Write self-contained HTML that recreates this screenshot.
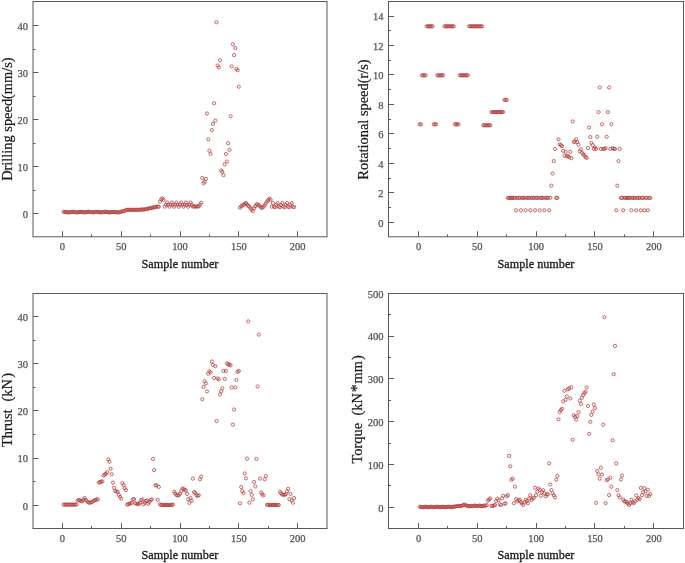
<!DOCTYPE html>
<html><head><meta charset="utf-8"><title>Drilling parameters</title>
<style>
html,body{margin:0;padding:0;background:#fff;}
body{width:685px;height:563px;overflow:hidden;}
svg{display:block;will-change:transform;}
.t{font-family:"Liberation Serif",serif;font-size:11.4px;fill:#505050;stroke:#505050;stroke-width:0.25px;}
.xl{font-family:"Liberation Serif",serif;font-size:12.2px;fill:#1a1a1a;stroke:#1a1a1a;stroke-width:0.3px;}
.yl{font-family:"Liberation Serif",serif;font-size:14.4px;fill:#1a1a1a;stroke:#1a1a1a;stroke-width:0.22px;}
</style></head><body>
<svg width="685" height="563" viewBox="0 0 685 563">
<rect width="685" height="563" fill="#fff"/>
<rect x="33.0" y="1.5" width="294.0" height="235.3" fill="none" stroke="#5a5a5a" stroke-width="1"/>
<text x="62.4" y="250.2" text-anchor="middle" class="t" textLength="5.25" lengthAdjust="spacingAndGlyphs">0</text>
<text x="121.2" y="250.2" text-anchor="middle" class="t" textLength="10.50" lengthAdjust="spacingAndGlyphs">50</text>
<text x="180.0" y="250.2" text-anchor="middle" class="t" textLength="15.75" lengthAdjust="spacingAndGlyphs">100</text>
<text x="238.8" y="250.2" text-anchor="middle" class="t" textLength="15.75" lengthAdjust="spacingAndGlyphs">150</text>
<text x="297.6" y="250.2" text-anchor="middle" class="t" textLength="15.75" lengthAdjust="spacingAndGlyphs">200</text>
<text x="28.0" y="218.1" text-anchor="end" class="t" textLength="5.25" lengthAdjust="spacingAndGlyphs">0</text>
<text x="28.0" y="171.0" text-anchor="end" class="t" textLength="10.50" lengthAdjust="spacingAndGlyphs">10</text>
<text x="28.0" y="123.9" text-anchor="end" class="t" textLength="10.50" lengthAdjust="spacingAndGlyphs">20</text>
<text x="28.0" y="76.9" text-anchor="end" class="t" textLength="10.50" lengthAdjust="spacingAndGlyphs">30</text>
<text x="28.0" y="29.8" text-anchor="end" class="t" textLength="10.50" lengthAdjust="spacingAndGlyphs">40</text>
<path d="M62.5 236.8v-5.5M121.5 236.8v-5.5M180.5 236.8v-5.5M238.5 236.8v-5.5M297.5 236.8v-5.5M91.5 236.8v-2.5M150.5 236.8v-2.5M209.5 236.8v-2.5M268.5 236.8v-2.5M33.0 213.5h5.5M33.0 166.5h5.5M33.0 119.5h5.5M33.0 72.5h5.5M33.0 25.5h5.5M33.0 190.5h2.5M33.0 143.5h2.5M33.0 96.5h2.5M33.0 49.5h2.5" stroke="#5a5a5a" stroke-width="1" fill="none"/>
<text x="180.0" y="267.6" text-anchor="middle" class="xl">Sample number</text>
<text transform="translate(12.4,119.1) rotate(-90)" text-anchor="middle" class="yl">Drilling speed(mm/s)</text>
<g fill="none" stroke="#b23a3a" stroke-width="0.75"><circle cx="63.6" cy="211.8" r="1.6"/><circle cx="64.8" cy="212.0" r="1.6"/><circle cx="65.9" cy="211.9" r="1.6"/><circle cx="67.1" cy="212.2" r="1.6"/><circle cx="68.3" cy="212.5" r="1.6"/><circle cx="69.5" cy="212.2" r="1.6"/><circle cx="70.6" cy="212.2" r="1.6"/><circle cx="71.8" cy="211.9" r="1.6"/><circle cx="73.0" cy="211.7" r="1.6"/><circle cx="74.2" cy="212.1" r="1.6"/><circle cx="75.3" cy="212.2" r="1.6"/><circle cx="76.5" cy="212.3" r="1.6"/><circle cx="77.7" cy="212.5" r="1.6"/><circle cx="78.9" cy="212.0" r="1.6"/><circle cx="80.0" cy="211.9" r="1.6"/><circle cx="81.2" cy="211.9" r="1.6"/><circle cx="82.4" cy="211.9" r="1.6"/><circle cx="83.6" cy="212.3" r="1.6"/><circle cx="84.7" cy="212.4" r="1.6"/><circle cx="85.9" cy="212.2" r="1.6"/><circle cx="87.1" cy="212.2" r="1.6"/><circle cx="88.3" cy="211.8" r="1.6"/><circle cx="89.4" cy="211.8" r="1.6"/><circle cx="90.6" cy="212.1" r="1.6"/><circle cx="91.8" cy="212.1" r="1.6"/><circle cx="93.0" cy="212.4" r="1.6"/><circle cx="94.2" cy="212.4" r="1.6"/><circle cx="95.3" cy="211.9" r="1.6"/><circle cx="96.5" cy="212.0" r="1.6"/><circle cx="97.7" cy="211.9" r="1.6"/><circle cx="98.9" cy="211.9" r="1.6"/><circle cx="100.0" cy="212.4" r="1.6"/><circle cx="101.2" cy="212.3" r="1.6"/><circle cx="102.4" cy="212.3" r="1.6"/><circle cx="103.6" cy="212.2" r="1.6"/><circle cx="104.7" cy="211.7" r="1.6"/><circle cx="105.9" cy="211.9" r="1.6"/><circle cx="107.1" cy="212.1" r="1.6"/><circle cx="108.3" cy="212.1" r="1.6"/><circle cx="109.4" cy="212.5" r="1.6"/><circle cx="110.6" cy="212.3" r="1.6"/><circle cx="111.8" cy="212.0" r="1.6"/><circle cx="113.0" cy="212.0" r="1.6"/><circle cx="114.1" cy="211.8" r="1.6"/><circle cx="115.3" cy="212.0" r="1.6"/><circle cx="116.5" cy="212.4" r="1.6"/><circle cx="117.7" cy="212.3" r="1.6"/><circle cx="118.8" cy="212.4" r="1.6"/><circle cx="120.0" cy="212.1" r="1.6"/><circle cx="121.2" cy="211.7" r="1.6"/><circle cx="122.4" cy="211.2" r="1.6"/><circle cx="123.6" cy="211.2" r="1.6"/><circle cx="124.7" cy="211.2" r="1.6"/><circle cx="125.9" cy="209.8" r="1.6"/><circle cx="127.1" cy="209.8" r="1.6"/><circle cx="128.3" cy="209.8" r="1.6"/><circle cx="129.4" cy="209.8" r="1.6"/><circle cx="130.6" cy="209.8" r="1.6"/><circle cx="131.8" cy="209.8" r="1.6"/><circle cx="133.0" cy="209.8" r="1.6"/><circle cx="134.1" cy="209.8" r="1.6"/><circle cx="135.3" cy="209.8" r="1.6"/><circle cx="136.5" cy="209.8" r="1.6"/><circle cx="137.7" cy="209.8" r="1.6"/><circle cx="138.8" cy="209.8" r="1.6"/><circle cx="140.0" cy="209.8" r="1.6"/><circle cx="141.2" cy="209.5" r="1.6"/><circle cx="142.4" cy="209.5" r="1.6"/><circle cx="143.5" cy="209.5" r="1.6"/><circle cx="144.7" cy="209.5" r="1.6"/><circle cx="145.9" cy="209.1" r="1.6"/><circle cx="147.1" cy="209.1" r="1.6"/><circle cx="148.2" cy="208.6" r="1.6"/><circle cx="149.4" cy="208.2" r="1.6"/><circle cx="150.6" cy="208.2" r="1.6"/><circle cx="151.8" cy="207.7" r="1.6"/><circle cx="153.0" cy="207.7" r="1.6"/><circle cx="154.1" cy="207.2" r="1.6"/><circle cx="155.3" cy="207.2" r="1.6"/><circle cx="156.5" cy="206.7" r="1.6"/><circle cx="157.7" cy="206.7" r="1.6"/><circle cx="158.8" cy="206.7" r="1.6"/><circle cx="160.0" cy="201.6" r="1.6"/><circle cx="161.2" cy="199.3" r="1.6"/><circle cx="162.4" cy="198.4" r="1.6"/><circle cx="163.5" cy="199.9" r="1.6"/><circle cx="164.7" cy="206.7" r="1.6"/><circle cx="165.9" cy="204.6" r="1.6"/><circle cx="167.1" cy="202.5" r="1.6"/><circle cx="168.2" cy="204.9" r="1.6"/><circle cx="169.4" cy="206.7" r="1.6"/><circle cx="170.6" cy="204.6" r="1.6"/><circle cx="171.8" cy="202.5" r="1.6"/><circle cx="172.9" cy="204.9" r="1.6"/><circle cx="174.1" cy="206.7" r="1.6"/><circle cx="175.3" cy="204.6" r="1.6"/><circle cx="176.5" cy="202.5" r="1.6"/><circle cx="177.6" cy="204.9" r="1.6"/><circle cx="178.8" cy="206.7" r="1.6"/><circle cx="180.0" cy="204.6" r="1.6"/><circle cx="181.2" cy="202.5" r="1.6"/><circle cx="182.4" cy="204.9" r="1.6"/><circle cx="183.5" cy="206.7" r="1.6"/><circle cx="184.7" cy="204.6" r="1.6"/><circle cx="185.9" cy="202.5" r="1.6"/><circle cx="187.1" cy="204.9" r="1.6"/><circle cx="188.2" cy="206.7" r="1.6"/><circle cx="189.4" cy="204.6" r="1.6"/><circle cx="190.6" cy="202.5" r="1.6"/><circle cx="191.8" cy="204.9" r="1.6"/><circle cx="192.9" cy="206.5" r="1.6"/><circle cx="194.1" cy="206.5" r="1.6"/><circle cx="195.3" cy="206.5" r="1.6"/><circle cx="196.5" cy="206.5" r="1.6"/><circle cx="197.6" cy="206.5" r="1.6"/><circle cx="198.8" cy="206.3" r="1.6"/><circle cx="200.0" cy="204.6" r="1.6"/><circle cx="201.2" cy="202.8" r="1.6"/><circle cx="202.3" cy="178.0" r="1.6"/><circle cx="203.5" cy="183.2" r="1.6"/><circle cx="204.7" cy="181.8" r="1.6"/><circle cx="205.9" cy="179.0" r="1.6"/><circle cx="207.0" cy="113.5" r="1.6"/><circle cx="208.2" cy="139.4" r="1.6"/><circle cx="209.4" cy="150.7" r="1.6"/><circle cx="210.6" cy="154.0" r="1.6"/><circle cx="211.8" cy="130.0" r="1.6"/><circle cx="212.9" cy="123.9" r="1.6"/><circle cx="214.1" cy="103.2" r="1.6"/><circle cx="215.3" cy="120.6" r="1.6"/><circle cx="216.5" cy="22.2" r="1.6"/><circle cx="217.6" cy="65.5" r="1.6"/><circle cx="218.8" cy="67.4" r="1.6"/><circle cx="220.0" cy="60.3" r="1.6"/><circle cx="221.2" cy="170.5" r="1.6"/><circle cx="222.3" cy="171.9" r="1.6"/><circle cx="223.5" cy="175.2" r="1.6"/><circle cx="224.7" cy="164.4" r="1.6"/><circle cx="225.9" cy="154.0" r="1.6"/><circle cx="227.0" cy="161.5" r="1.6"/><circle cx="228.2" cy="143.2" r="1.6"/><circle cx="229.4" cy="149.8" r="1.6"/><circle cx="230.6" cy="116.3" r="1.6"/><circle cx="231.7" cy="66.4" r="1.6"/><circle cx="232.9" cy="44.3" r="1.6"/><circle cx="234.1" cy="55.1" r="1.6"/><circle cx="235.3" cy="48.1" r="1.6"/><circle cx="236.4" cy="68.8" r="1.6"/><circle cx="237.6" cy="70.2" r="1.6"/><circle cx="238.8" cy="86.7" r="1.6"/><circle cx="240.0" cy="207.7" r="1.6"/><circle cx="241.2" cy="206.3" r="1.6"/><circle cx="242.3" cy="205.3" r="1.6"/><circle cx="243.5" cy="204.9" r="1.6"/><circle cx="244.7" cy="203.9" r="1.6"/><circle cx="245.9" cy="203.0" r="1.6"/><circle cx="247.0" cy="204.4" r="1.6"/><circle cx="248.2" cy="205.8" r="1.6"/><circle cx="249.4" cy="206.7" r="1.6"/><circle cx="250.6" cy="208.2" r="1.6"/><circle cx="251.7" cy="209.6" r="1.6"/><circle cx="252.9" cy="211.0" r="1.6"/><circle cx="254.1" cy="208.2" r="1.6"/><circle cx="255.3" cy="206.3" r="1.6"/><circle cx="256.4" cy="204.4" r="1.6"/><circle cx="257.6" cy="204.4" r="1.6"/><circle cx="258.8" cy="204.9" r="1.6"/><circle cx="260.0" cy="206.3" r="1.6"/><circle cx="261.1" cy="207.7" r="1.6"/><circle cx="262.3" cy="207.7" r="1.6"/><circle cx="263.5" cy="206.7" r="1.6"/><circle cx="264.7" cy="205.3" r="1.6"/><circle cx="265.8" cy="203.4" r="1.6"/><circle cx="267.0" cy="201.6" r="1.6"/><circle cx="268.2" cy="200.1" r="1.6"/><circle cx="269.4" cy="198.7" r="1.6"/><circle cx="270.6" cy="199.7" r="1.6"/><circle cx="271.7" cy="206.7" r="1.6"/><circle cx="272.9" cy="203.0" r="1.6"/><circle cx="274.1" cy="206.7" r="1.6"/><circle cx="275.3" cy="207.2" r="1.6"/><circle cx="276.4" cy="204.9" r="1.6"/><circle cx="277.6" cy="203.0" r="1.6"/><circle cx="278.8" cy="206.7" r="1.6"/><circle cx="280.0" cy="207.2" r="1.6"/><circle cx="281.1" cy="204.9" r="1.6"/><circle cx="282.3" cy="203.0" r="1.6"/><circle cx="283.5" cy="206.7" r="1.6"/><circle cx="284.7" cy="207.2" r="1.6"/><circle cx="285.8" cy="204.9" r="1.6"/><circle cx="287.0" cy="203.0" r="1.6"/><circle cx="288.2" cy="206.7" r="1.6"/><circle cx="289.4" cy="207.2" r="1.6"/><circle cx="290.5" cy="204.9" r="1.6"/><circle cx="291.7" cy="203.0" r="1.6"/><circle cx="292.9" cy="206.7" r="1.6"/><circle cx="294.1" cy="207.2" r="1.6"/></g>
<rect x="388.5" y="1.5" width="295.0" height="235.3" fill="none" stroke="#5a5a5a" stroke-width="1"/>
<text x="418.5" y="250.2" text-anchor="middle" class="t" textLength="5.25" lengthAdjust="spacingAndGlyphs">0</text>
<text x="477.3" y="250.2" text-anchor="middle" class="t" textLength="10.50" lengthAdjust="spacingAndGlyphs">50</text>
<text x="536.1" y="250.2" text-anchor="middle" class="t" textLength="15.75" lengthAdjust="spacingAndGlyphs">100</text>
<text x="595.0" y="250.2" text-anchor="middle" class="t" textLength="15.75" lengthAdjust="spacingAndGlyphs">150</text>
<text x="653.8" y="250.2" text-anchor="middle" class="t" textLength="15.75" lengthAdjust="spacingAndGlyphs">200</text>
<text x="383.5" y="226.5" text-anchor="end" class="t" textLength="5.25" lengthAdjust="spacingAndGlyphs">0</text>
<text x="383.5" y="197.1" text-anchor="end" class="t" textLength="5.25" lengthAdjust="spacingAndGlyphs">2</text>
<text x="383.5" y="167.6" text-anchor="end" class="t" textLength="5.25" lengthAdjust="spacingAndGlyphs">4</text>
<text x="383.5" y="138.2" text-anchor="end" class="t" textLength="5.25" lengthAdjust="spacingAndGlyphs">6</text>
<text x="383.5" y="108.7" text-anchor="end" class="t" textLength="5.25" lengthAdjust="spacingAndGlyphs">8</text>
<text x="383.5" y="79.3" text-anchor="end" class="t" textLength="10.50" lengthAdjust="spacingAndGlyphs">10</text>
<text x="383.5" y="49.9" text-anchor="end" class="t" textLength="10.50" lengthAdjust="spacingAndGlyphs">12</text>
<text x="383.5" y="20.4" text-anchor="end" class="t" textLength="10.50" lengthAdjust="spacingAndGlyphs">14</text>
<path d="M418.5 236.8v-5.5M477.5 236.8v-5.5M536.5 236.8v-5.5M594.5 236.8v-5.5M653.5 236.8v-5.5M447.5 236.8v-2.5M506.5 236.8v-2.5M565.5 236.8v-2.5M624.5 236.8v-2.5M388.5 222.5h5.5M388.5 192.5h5.5M388.5 163.5h5.5M388.5 133.5h5.5M388.5 104.5h5.5M388.5 74.5h5.5M388.5 45.5h5.5M388.5 16.5h5.5M388.5 207.5h2.5M388.5 178.5h2.5M388.5 148.5h2.5M388.5 119.5h2.5M388.5 89.5h2.5M388.5 60.5h2.5M388.5 30.5h2.5" stroke="#5a5a5a" stroke-width="1" fill="none"/>
<text x="536.0" y="267.6" text-anchor="middle" class="xl">Sample number</text>
<text transform="translate(367.9,119.5) rotate(-90)" text-anchor="middle" class="yl">Rotational speed(r/s)</text>
<g fill="none" stroke="#b23a3a" stroke-width="0.75"><circle cx="419.7" cy="124.3" r="1.6"/><circle cx="420.9" cy="124.3" r="1.6"/><circle cx="422.0" cy="75.3" r="1.6"/><circle cx="423.2" cy="75.3" r="1.6"/><circle cx="424.4" cy="75.3" r="1.6"/><circle cx="425.6" cy="75.3" r="1.6"/><circle cx="426.7" cy="26.3" r="1.6"/><circle cx="427.9" cy="26.3" r="1.6"/><circle cx="429.1" cy="26.3" r="1.6"/><circle cx="430.3" cy="26.3" r="1.6"/><circle cx="431.4" cy="26.3" r="1.6"/><circle cx="432.6" cy="26.3" r="1.6"/><circle cx="433.8" cy="124.3" r="1.6"/><circle cx="435.0" cy="124.3" r="1.6"/><circle cx="436.1" cy="124.3" r="1.6"/><circle cx="437.3" cy="75.3" r="1.6"/><circle cx="438.5" cy="75.3" r="1.6"/><circle cx="439.7" cy="75.3" r="1.6"/><circle cx="440.9" cy="75.3" r="1.6"/><circle cx="442.0" cy="75.3" r="1.6"/><circle cx="443.2" cy="75.3" r="1.6"/><circle cx="444.4" cy="26.3" r="1.6"/><circle cx="445.6" cy="26.3" r="1.6"/><circle cx="446.7" cy="26.3" r="1.6"/><circle cx="447.9" cy="26.3" r="1.6"/><circle cx="449.1" cy="26.3" r="1.6"/><circle cx="450.3" cy="26.3" r="1.6"/><circle cx="451.4" cy="26.3" r="1.6"/><circle cx="452.6" cy="26.3" r="1.6"/><circle cx="453.8" cy="26.3" r="1.6"/><circle cx="455.0" cy="124.3" r="1.6"/><circle cx="456.1" cy="124.3" r="1.6"/><circle cx="457.3" cy="124.3" r="1.6"/><circle cx="458.5" cy="124.3" r="1.6"/><circle cx="459.7" cy="75.3" r="1.6"/><circle cx="460.9" cy="75.3" r="1.6"/><circle cx="462.0" cy="75.3" r="1.6"/><circle cx="463.2" cy="75.3" r="1.6"/><circle cx="464.4" cy="75.3" r="1.6"/><circle cx="465.6" cy="75.3" r="1.6"/><circle cx="466.7" cy="75.3" r="1.6"/><circle cx="467.9" cy="75.3" r="1.6"/><circle cx="469.1" cy="26.3" r="1.6"/><circle cx="470.3" cy="26.3" r="1.6"/><circle cx="471.4" cy="26.3" r="1.6"/><circle cx="472.6" cy="26.3" r="1.6"/><circle cx="473.8" cy="26.3" r="1.6"/><circle cx="475.0" cy="26.3" r="1.6"/><circle cx="476.1" cy="26.3" r="1.6"/><circle cx="477.3" cy="26.3" r="1.6"/><circle cx="478.5" cy="26.3" r="1.6"/><circle cx="479.7" cy="26.3" r="1.6"/><circle cx="480.9" cy="26.3" r="1.6"/><circle cx="482.0" cy="26.3" r="1.6"/><circle cx="483.2" cy="125.3" r="1.6"/><circle cx="484.4" cy="125.3" r="1.6"/><circle cx="485.6" cy="125.3" r="1.6"/><circle cx="486.7" cy="125.3" r="1.6"/><circle cx="487.9" cy="125.3" r="1.6"/><circle cx="489.1" cy="125.3" r="1.6"/><circle cx="490.3" cy="125.3" r="1.6"/><circle cx="491.4" cy="112.1" r="1.6"/><circle cx="492.6" cy="112.1" r="1.6"/><circle cx="493.8" cy="112.1" r="1.6"/><circle cx="495.0" cy="112.1" r="1.6"/><circle cx="496.1" cy="112.1" r="1.6"/><circle cx="497.3" cy="112.1" r="1.6"/><circle cx="498.5" cy="112.1" r="1.6"/><circle cx="499.7" cy="112.1" r="1.6"/><circle cx="500.9" cy="112.1" r="1.6"/><circle cx="502.0" cy="112.1" r="1.6"/><circle cx="503.2" cy="112.1" r="1.6"/><circle cx="504.4" cy="99.9" r="1.6"/><circle cx="505.6" cy="99.9" r="1.6"/><circle cx="506.7" cy="99.9" r="1.6"/><circle cx="507.9" cy="197.9" r="1.6"/><circle cx="509.1" cy="197.9" r="1.6"/><circle cx="510.3" cy="197.9" r="1.6"/><circle cx="511.4" cy="197.9" r="1.6"/><circle cx="512.6" cy="197.9" r="1.6"/><circle cx="513.8" cy="197.9" r="1.6"/><circle cx="515.0" cy="197.9" r="1.6"/><circle cx="516.1" cy="210.3" r="1.6"/><circle cx="517.3" cy="197.9" r="1.6"/><circle cx="518.5" cy="197.9" r="1.6"/><circle cx="519.7" cy="197.9" r="1.6"/><circle cx="520.9" cy="210.3" r="1.6"/><circle cx="522.0" cy="197.9" r="1.6"/><circle cx="523.2" cy="197.9" r="1.6"/><circle cx="524.4" cy="197.9" r="1.6"/><circle cx="525.6" cy="210.3" r="1.6"/><circle cx="526.7" cy="197.9" r="1.6"/><circle cx="527.9" cy="197.9" r="1.6"/><circle cx="529.1" cy="197.9" r="1.6"/><circle cx="530.3" cy="210.3" r="1.6"/><circle cx="531.4" cy="197.9" r="1.6"/><circle cx="532.6" cy="197.9" r="1.6"/><circle cx="533.8" cy="197.9" r="1.6"/><circle cx="535.0" cy="210.3" r="1.6"/><circle cx="536.1" cy="197.9" r="1.6"/><circle cx="537.3" cy="197.9" r="1.6"/><circle cx="538.5" cy="197.9" r="1.6"/><circle cx="539.7" cy="210.3" r="1.6"/><circle cx="540.9" cy="197.9" r="1.6"/><circle cx="542.0" cy="197.9" r="1.6"/><circle cx="543.2" cy="197.9" r="1.6"/><circle cx="544.4" cy="210.3" r="1.6"/><circle cx="545.6" cy="197.9" r="1.6"/><circle cx="546.7" cy="197.9" r="1.6"/><circle cx="547.9" cy="197.9" r="1.6"/><circle cx="549.1" cy="210.3" r="1.6"/><circle cx="550.3" cy="197.9" r="1.6"/><circle cx="551.4" cy="185.7" r="1.6"/><circle cx="552.6" cy="173.5" r="1.6"/><circle cx="553.8" cy="161.1" r="1.6"/><circle cx="555.0" cy="148.9" r="1.6"/><circle cx="556.2" cy="197.9" r="1.6"/><circle cx="557.3" cy="197.9" r="1.6"/><circle cx="558.5" cy="139.2" r="1.6"/><circle cx="559.7" cy="144.5" r="1.6"/><circle cx="560.9" cy="145.2" r="1.6"/><circle cx="562.0" cy="146.1" r="1.6"/><circle cx="563.2" cy="150.8" r="1.6"/><circle cx="564.4" cy="155.7" r="1.6"/><circle cx="565.6" cy="151.8" r="1.6"/><circle cx="566.7" cy="156.3" r="1.6"/><circle cx="567.9" cy="156.0" r="1.6"/><circle cx="569.1" cy="157.1" r="1.6"/><circle cx="570.3" cy="151.8" r="1.6"/><circle cx="571.4" cy="158.2" r="1.6"/><circle cx="572.6" cy="121.4" r="1.6"/><circle cx="573.8" cy="142.1" r="1.6"/><circle cx="575.0" cy="141.5" r="1.6"/><circle cx="576.2" cy="139.2" r="1.6"/><circle cx="577.3" cy="142.1" r="1.6"/><circle cx="578.5" cy="144.8" r="1.6"/><circle cx="579.7" cy="151.3" r="1.6"/><circle cx="580.9" cy="149.3" r="1.6"/><circle cx="582.0" cy="152.6" r="1.6"/><circle cx="583.2" cy="154.2" r="1.6"/><circle cx="584.4" cy="155.5" r="1.6"/><circle cx="585.6" cy="157.0" r="1.6"/><circle cx="586.7" cy="157.9" r="1.6"/><circle cx="587.9" cy="148.0" r="1.6"/><circle cx="589.1" cy="127.6" r="1.6"/><circle cx="590.3" cy="137.0" r="1.6"/><circle cx="591.4" cy="142.9" r="1.6"/><circle cx="592.6" cy="145.1" r="1.6"/><circle cx="593.8" cy="148.9" r="1.6"/><circle cx="595.0" cy="147.4" r="1.6"/><circle cx="596.2" cy="148.9" r="1.6"/><circle cx="597.3" cy="136.7" r="1.6"/><circle cx="598.5" cy="112.1" r="1.6"/><circle cx="599.7" cy="87.5" r="1.6"/><circle cx="600.9" cy="148.9" r="1.6"/><circle cx="602.0" cy="124.3" r="1.6"/><circle cx="603.2" cy="148.9" r="1.6"/><circle cx="604.4" cy="148.9" r="1.6"/><circle cx="605.6" cy="148.2" r="1.6"/><circle cx="606.7" cy="136.7" r="1.6"/><circle cx="607.9" cy="112.1" r="1.6"/><circle cx="609.1" cy="87.5" r="1.6"/><circle cx="610.3" cy="148.9" r="1.6"/><circle cx="611.4" cy="124.3" r="1.6"/><circle cx="612.6" cy="148.2" r="1.6"/><circle cx="613.8" cy="148.9" r="1.6"/><circle cx="615.0" cy="148.9" r="1.6"/><circle cx="616.2" cy="210.3" r="1.6"/><circle cx="617.3" cy="185.7" r="1.6"/><circle cx="618.5" cy="161.1" r="1.6"/><circle cx="619.7" cy="148.9" r="1.6"/><circle cx="620.9" cy="197.9" r="1.6"/><circle cx="622.0" cy="197.9" r="1.6"/><circle cx="623.2" cy="210.3" r="1.6"/><circle cx="624.4" cy="197.9" r="1.6"/><circle cx="625.6" cy="197.9" r="1.6"/><circle cx="626.7" cy="197.9" r="1.6"/><circle cx="627.9" cy="197.9" r="1.6"/><circle cx="629.1" cy="197.9" r="1.6"/><circle cx="630.3" cy="197.9" r="1.6"/><circle cx="631.4" cy="210.3" r="1.6"/><circle cx="632.6" cy="197.9" r="1.6"/><circle cx="633.8" cy="197.9" r="1.6"/><circle cx="635.0" cy="197.9" r="1.6"/><circle cx="636.2" cy="210.3" r="1.6"/><circle cx="637.3" cy="197.9" r="1.6"/><circle cx="638.5" cy="197.9" r="1.6"/><circle cx="639.7" cy="197.9" r="1.6"/><circle cx="640.9" cy="210.3" r="1.6"/><circle cx="642.0" cy="197.9" r="1.6"/><circle cx="643.2" cy="197.9" r="1.6"/><circle cx="644.4" cy="210.3" r="1.6"/><circle cx="645.6" cy="197.9" r="1.6"/><circle cx="646.7" cy="197.9" r="1.6"/><circle cx="647.9" cy="210.3" r="1.6"/><circle cx="649.1" cy="197.9" r="1.6"/><circle cx="650.3" cy="197.9" r="1.6"/></g>
<rect x="33.0" y="293.5" width="294.0" height="235.0" fill="none" stroke="#5a5a5a" stroke-width="1"/>
<text x="62.4" y="541.9" text-anchor="middle" class="t" textLength="5.25" lengthAdjust="spacingAndGlyphs">0</text>
<text x="121.2" y="541.9" text-anchor="middle" class="t" textLength="10.50" lengthAdjust="spacingAndGlyphs">50</text>
<text x="180.0" y="541.9" text-anchor="middle" class="t" textLength="15.75" lengthAdjust="spacingAndGlyphs">100</text>
<text x="238.8" y="541.9" text-anchor="middle" class="t" textLength="15.75" lengthAdjust="spacingAndGlyphs">150</text>
<text x="297.6" y="541.9" text-anchor="middle" class="t" textLength="15.75" lengthAdjust="spacingAndGlyphs">200</text>
<text x="28.0" y="509.5" text-anchor="end" class="t" textLength="5.25" lengthAdjust="spacingAndGlyphs">0</text>
<text x="28.0" y="462.4" text-anchor="end" class="t" textLength="10.50" lengthAdjust="spacingAndGlyphs">10</text>
<text x="28.0" y="415.3" text-anchor="end" class="t" textLength="10.50" lengthAdjust="spacingAndGlyphs">20</text>
<text x="28.0" y="368.1" text-anchor="end" class="t" textLength="10.50" lengthAdjust="spacingAndGlyphs">30</text>
<text x="28.0" y="321.0" text-anchor="end" class="t" textLength="10.50" lengthAdjust="spacingAndGlyphs">40</text>
<path d="M62.5 528.5v-5.5M121.5 528.5v-5.5M180.5 528.5v-5.5M238.5 528.5v-5.5M297.5 528.5v-5.5M91.5 528.5v-2.5M150.5 528.5v-2.5M209.5 528.5v-2.5M268.5 528.5v-2.5M33.0 505.5h5.5M33.0 458.5h5.5M33.0 410.5h5.5M33.0 363.5h5.5M33.0 316.5h5.5M33.0 481.5h2.5M33.0 434.5h2.5M33.0 387.5h2.5M33.0 340.5h2.5" stroke="#5a5a5a" stroke-width="1" fill="none"/>
<text x="180.0" y="559.3" text-anchor="middle" class="xl">Sample number</text>
<text transform="translate(12.4,410) rotate(-90)" text-anchor="middle" class="yl">Thrust<tspan dx="7.8">(</tspan>kN<tspan dx="1.4">)</tspan></text>
<g fill="none" stroke="#b23a3a" stroke-width="0.75"><circle cx="63.6" cy="504.6" r="1.6"/><circle cx="64.8" cy="504.6" r="1.6"/><circle cx="65.9" cy="504.6" r="1.6"/><circle cx="67.1" cy="504.6" r="1.6"/><circle cx="68.3" cy="504.6" r="1.6"/><circle cx="69.5" cy="504.6" r="1.6"/><circle cx="70.6" cy="504.6" r="1.6"/><circle cx="71.8" cy="504.6" r="1.6"/><circle cx="73.0" cy="504.6" r="1.6"/><circle cx="74.2" cy="504.6" r="1.6"/><circle cx="75.3" cy="504.6" r="1.6"/><circle cx="76.5" cy="504.6" r="1.6"/><circle cx="77.7" cy="500.5" r="1.6"/><circle cx="78.9" cy="500.0" r="1.6"/><circle cx="80.0" cy="500.5" r="1.6"/><circle cx="81.2" cy="501.0" r="1.6"/><circle cx="82.4" cy="501.4" r="1.6"/><circle cx="83.6" cy="499.5" r="1.6"/><circle cx="84.7" cy="498.0" r="1.6"/><circle cx="85.9" cy="500.0" r="1.6"/><circle cx="87.1" cy="501.4" r="1.6"/><circle cx="88.3" cy="502.4" r="1.6"/><circle cx="89.4" cy="502.7" r="1.6"/><circle cx="90.6" cy="502.6" r="1.6"/><circle cx="91.8" cy="501.9" r="1.6"/><circle cx="93.0" cy="501.4" r="1.6"/><circle cx="94.2" cy="500.5" r="1.6"/><circle cx="95.3" cy="500.0" r="1.6"/><circle cx="96.5" cy="499.5" r="1.6"/><circle cx="97.7" cy="499.3" r="1.6"/><circle cx="98.9" cy="482.6" r="1.6"/><circle cx="100.0" cy="482.1" r="1.6"/><circle cx="101.2" cy="481.6" r="1.6"/><circle cx="102.4" cy="481.4" r="1.6"/><circle cx="103.6" cy="475.5" r="1.6"/><circle cx="104.7" cy="474.6" r="1.6"/><circle cx="105.9" cy="473.8" r="1.6"/><circle cx="107.1" cy="472.3" r="1.6"/><circle cx="108.3" cy="459.3" r="1.6"/><circle cx="109.4" cy="461.8" r="1.6"/><circle cx="110.6" cy="468.8" r="1.6"/><circle cx="111.8" cy="474.3" r="1.6"/><circle cx="113.0" cy="482.6" r="1.6"/><circle cx="114.1" cy="487.8" r="1.6"/><circle cx="115.3" cy="491.1" r="1.6"/><circle cx="116.5" cy="491.5" r="1.6"/><circle cx="117.7" cy="491.7" r="1.6"/><circle cx="118.8" cy="494.8" r="1.6"/><circle cx="120.0" cy="496.8" r="1.6"/><circle cx="121.2" cy="498.6" r="1.6"/><circle cx="122.4" cy="483.2" r="1.6"/><circle cx="123.6" cy="485.2" r="1.6"/><circle cx="124.7" cy="488.2" r="1.6"/><circle cx="125.9" cy="490.1" r="1.6"/><circle cx="127.1" cy="504.5" r="1.6"/><circle cx="128.3" cy="504.3" r="1.6"/><circle cx="129.4" cy="503.8" r="1.6"/><circle cx="130.6" cy="503.3" r="1.6"/><circle cx="131.8" cy="502.8" r="1.6"/><circle cx="133.0" cy="499.5" r="1.6"/><circle cx="134.1" cy="499.1" r="1.6"/><circle cx="135.3" cy="503.3" r="1.6"/><circle cx="136.5" cy="503.8" r="1.6"/><circle cx="137.7" cy="504.0" r="1.6"/><circle cx="138.8" cy="503.8" r="1.6"/><circle cx="140.0" cy="502.8" r="1.6"/><circle cx="141.2" cy="500.0" r="1.6"/><circle cx="142.4" cy="499.5" r="1.6"/><circle cx="143.5" cy="504.3" r="1.6"/><circle cx="144.7" cy="502.8" r="1.6"/><circle cx="145.9" cy="501.0" r="1.6"/><circle cx="147.1" cy="500.5" r="1.6"/><circle cx="148.2" cy="503.8" r="1.6"/><circle cx="149.4" cy="501.9" r="1.6"/><circle cx="150.6" cy="500.0" r="1.6"/><circle cx="151.8" cy="499.5" r="1.6"/><circle cx="153.0" cy="458.9" r="1.6"/><circle cx="154.1" cy="470.1" r="1.6"/><circle cx="155.3" cy="485.4" r="1.6"/><circle cx="156.5" cy="485.2" r="1.6"/><circle cx="157.7" cy="499.8" r="1.6"/><circle cx="158.8" cy="486.9" r="1.6"/><circle cx="160.0" cy="504.3" r="1.6"/><circle cx="161.2" cy="505.0" r="1.6"/><circle cx="162.4" cy="505.0" r="1.6"/><circle cx="163.5" cy="505.0" r="1.6"/><circle cx="164.7" cy="505.0" r="1.6"/><circle cx="165.9" cy="505.0" r="1.6"/><circle cx="167.1" cy="505.0" r="1.6"/><circle cx="168.2" cy="505.0" r="1.6"/><circle cx="169.4" cy="505.0" r="1.6"/><circle cx="170.6" cy="505.0" r="1.6"/><circle cx="171.8" cy="505.0" r="1.6"/><circle cx="172.9" cy="504.5" r="1.6"/><circle cx="174.1" cy="491.7" r="1.6"/><circle cx="175.3" cy="493.4" r="1.6"/><circle cx="176.5" cy="495.1" r="1.6"/><circle cx="177.6" cy="495.3" r="1.6"/><circle cx="178.8" cy="495.3" r="1.6"/><circle cx="180.0" cy="493.9" r="1.6"/><circle cx="181.2" cy="491.1" r="1.6"/><circle cx="182.4" cy="488.4" r="1.6"/><circle cx="183.5" cy="489.2" r="1.6"/><circle cx="184.7" cy="489.7" r="1.6"/><circle cx="185.9" cy="490.6" r="1.6"/><circle cx="187.1" cy="493.9" r="1.6"/><circle cx="188.2" cy="499.3" r="1.6"/><circle cx="189.4" cy="502.9" r="1.6"/><circle cx="190.6" cy="498.0" r="1.6"/><circle cx="191.8" cy="500.7" r="1.6"/><circle cx="192.9" cy="478.6" r="1.6"/><circle cx="194.1" cy="492.1" r="1.6"/><circle cx="195.3" cy="492.9" r="1.6"/><circle cx="196.5" cy="495.3" r="1.6"/><circle cx="197.6" cy="495.8" r="1.6"/><circle cx="198.8" cy="495.3" r="1.6"/><circle cx="200.0" cy="479.3" r="1.6"/><circle cx="201.2" cy="476.5" r="1.6"/><circle cx="202.3" cy="399.2" r="1.6"/><circle cx="203.5" cy="386.9" r="1.6"/><circle cx="204.7" cy="381.3" r="1.6"/><circle cx="205.9" cy="383.4" r="1.6"/><circle cx="207.0" cy="391.4" r="1.6"/><circle cx="208.2" cy="373.7" r="1.6"/><circle cx="209.4" cy="371.4" r="1.6"/><circle cx="210.6" cy="372.3" r="1.6"/><circle cx="211.8" cy="361.5" r="1.6"/><circle cx="212.9" cy="364.8" r="1.6"/><circle cx="214.1" cy="378.0" r="1.6"/><circle cx="215.3" cy="366.2" r="1.6"/><circle cx="216.5" cy="421.1" r="1.6"/><circle cx="217.6" cy="378.4" r="1.6"/><circle cx="218.8" cy="379.4" r="1.6"/><circle cx="220.0" cy="394.5" r="1.6"/><circle cx="221.2" cy="391.2" r="1.6"/><circle cx="222.3" cy="388.3" r="1.6"/><circle cx="223.5" cy="370.9" r="1.6"/><circle cx="224.7" cy="378.9" r="1.6"/><circle cx="225.9" cy="370.9" r="1.6"/><circle cx="227.0" cy="363.4" r="1.6"/><circle cx="228.2" cy="364.3" r="1.6"/><circle cx="229.4" cy="364.8" r="1.6"/><circle cx="230.6" cy="365.3" r="1.6"/><circle cx="231.7" cy="387.4" r="1.6"/><circle cx="232.9" cy="424.6" r="1.6"/><circle cx="234.1" cy="409.5" r="1.6"/><circle cx="235.3" cy="387.4" r="1.6"/><circle cx="236.4" cy="379.9" r="1.6"/><circle cx="237.6" cy="371.9" r="1.6"/><circle cx="238.8" cy="370.9" r="1.6"/><circle cx="240.0" cy="503.3" r="1.6"/><circle cx="241.2" cy="487.1" r="1.6"/><circle cx="242.3" cy="491.1" r="1.6"/><circle cx="243.5" cy="493.2" r="1.6"/><circle cx="244.7" cy="473.5" r="1.6"/><circle cx="245.9" cy="478.3" r="1.6"/><circle cx="247.0" cy="458.6" r="1.6"/><circle cx="248.2" cy="321.4" r="1.6"/><circle cx="249.4" cy="502.7" r="1.6"/><circle cx="250.6" cy="491.1" r="1.6"/><circle cx="251.7" cy="494.9" r="1.6"/><circle cx="252.9" cy="499.3" r="1.6"/><circle cx="254.1" cy="481.9" r="1.6"/><circle cx="255.3" cy="486.4" r="1.6"/><circle cx="256.4" cy="458.9" r="1.6"/><circle cx="257.6" cy="386.5" r="1.6"/><circle cx="258.8" cy="334.6" r="1.6"/><circle cx="260.0" cy="478.6" r="1.6"/><circle cx="261.1" cy="492.5" r="1.6"/><circle cx="262.3" cy="494.4" r="1.6"/><circle cx="263.5" cy="495.4" r="1.6"/><circle cx="264.7" cy="479.3" r="1.6"/><circle cx="265.8" cy="476.1" r="1.6"/><circle cx="267.0" cy="504.7" r="1.6"/><circle cx="268.2" cy="505.0" r="1.6"/><circle cx="269.4" cy="505.0" r="1.6"/><circle cx="270.6" cy="505.0" r="1.6"/><circle cx="271.7" cy="505.0" r="1.6"/><circle cx="272.9" cy="505.0" r="1.6"/><circle cx="274.1" cy="505.0" r="1.6"/><circle cx="275.3" cy="505.0" r="1.6"/><circle cx="276.4" cy="505.0" r="1.6"/><circle cx="277.6" cy="505.0" r="1.6"/><circle cx="278.8" cy="505.0" r="1.6"/><circle cx="280.0" cy="491.7" r="1.6"/><circle cx="281.1" cy="493.4" r="1.6"/><circle cx="282.3" cy="494.6" r="1.6"/><circle cx="283.5" cy="494.8" r="1.6"/><circle cx="284.7" cy="494.8" r="1.6"/><circle cx="285.8" cy="494.2" r="1.6"/><circle cx="287.0" cy="491.3" r="1.6"/><circle cx="288.2" cy="488.8" r="1.6"/><circle cx="289.4" cy="499.1" r="1.6"/><circle cx="290.5" cy="493.9" r="1.6"/><circle cx="291.7" cy="500.5" r="1.6"/><circle cx="292.9" cy="502.7" r="1.6"/><circle cx="294.1" cy="498.0" r="1.6"/></g>
<rect x="388.5" y="293.5" width="295.0" height="235.0" fill="none" stroke="#5a5a5a" stroke-width="1"/>
<text x="418.5" y="541.9" text-anchor="middle" class="t" textLength="5.25" lengthAdjust="spacingAndGlyphs">0</text>
<text x="477.3" y="541.9" text-anchor="middle" class="t" textLength="10.50" lengthAdjust="spacingAndGlyphs">50</text>
<text x="536.1" y="541.9" text-anchor="middle" class="t" textLength="15.75" lengthAdjust="spacingAndGlyphs">100</text>
<text x="595.0" y="541.9" text-anchor="middle" class="t" textLength="15.75" lengthAdjust="spacingAndGlyphs">150</text>
<text x="653.8" y="541.9" text-anchor="middle" class="t" textLength="15.75" lengthAdjust="spacingAndGlyphs">200</text>
<text x="383.5" y="511.5" text-anchor="end" class="t" textLength="5.25" lengthAdjust="spacingAndGlyphs">0</text>
<text x="383.5" y="468.7" text-anchor="end" class="t" textLength="15.75" lengthAdjust="spacingAndGlyphs">100</text>
<text x="383.5" y="425.9" text-anchor="end" class="t" textLength="15.75" lengthAdjust="spacingAndGlyphs">200</text>
<text x="383.5" y="383.2" text-anchor="end" class="t" textLength="15.75" lengthAdjust="spacingAndGlyphs">300</text>
<text x="383.5" y="340.4" text-anchor="end" class="t" textLength="15.75" lengthAdjust="spacingAndGlyphs">400</text>
<text x="383.5" y="297.6" text-anchor="end" class="t" textLength="15.75" lengthAdjust="spacingAndGlyphs">500</text>
<path d="M418.5 528.5v-5.5M477.5 528.5v-5.5M536.5 528.5v-5.5M594.5 528.5v-5.5M653.5 528.5v-5.5M447.5 528.5v-2.5M506.5 528.5v-2.5M565.5 528.5v-2.5M624.5 528.5v-2.5M388.5 507.5h5.5M388.5 464.5h5.5M388.5 421.5h5.5M388.5 378.5h5.5M388.5 336.5h5.5M388.5 293.5h5.5M388.5 485.5h2.5M388.5 443.5h2.5M388.5 400.5h2.5M388.5 357.5h2.5M388.5 314.5h2.5" stroke="#5a5a5a" stroke-width="1" fill="none"/>
<text x="536.0" y="559.3" text-anchor="middle" class="xl">Sample number</text>
<text transform="translate(362.2,409.3) rotate(-90)" text-anchor="middle" class="yl">Torque<tspan dx="7.5">(</tspan>kN<tspan dx="0.8" font-size="16">*</tspan><tspan dx="0.8">mm</tspan><tspan dx="1.2">)</tspan></text>
<g fill="none" stroke="#b23a3a" stroke-width="0.75"><circle cx="419.7" cy="506.7" r="1.6"/><circle cx="420.9" cy="506.9" r="1.6"/><circle cx="422.0" cy="507.2" r="1.6"/><circle cx="423.2" cy="507.2" r="1.6"/><circle cx="424.4" cy="506.9" r="1.6"/><circle cx="425.6" cy="506.7" r="1.6"/><circle cx="426.7" cy="506.9" r="1.6"/><circle cx="427.9" cy="507.2" r="1.6"/><circle cx="429.1" cy="507.2" r="1.6"/><circle cx="430.3" cy="506.9" r="1.6"/><circle cx="431.4" cy="506.7" r="1.6"/><circle cx="432.6" cy="507.0" r="1.6"/><circle cx="433.8" cy="507.2" r="1.6"/><circle cx="435.0" cy="507.1" r="1.6"/><circle cx="436.1" cy="506.8" r="1.6"/><circle cx="437.3" cy="506.7" r="1.6"/><circle cx="438.5" cy="507.0" r="1.6"/><circle cx="439.7" cy="507.2" r="1.6"/><circle cx="440.9" cy="507.1" r="1.6"/><circle cx="442.0" cy="506.8" r="1.6"/><circle cx="443.2" cy="506.8" r="1.6"/><circle cx="444.4" cy="507.1" r="1.6"/><circle cx="445.6" cy="507.2" r="1.6"/><circle cx="446.7" cy="507.0" r="1.6"/><circle cx="447.9" cy="506.8" r="1.6"/><circle cx="449.1" cy="506.8" r="1.6"/><circle cx="450.3" cy="507.1" r="1.6"/><circle cx="451.4" cy="507.2" r="1.6"/><circle cx="452.6" cy="507.0" r="1.6"/><circle cx="453.8" cy="506.7" r="1.6"/><circle cx="455.0" cy="506.6" r="1.6"/><circle cx="456.1" cy="506.3" r="1.6"/><circle cx="457.3" cy="506.1" r="1.6"/><circle cx="458.5" cy="505.9" r="1.6"/><circle cx="459.7" cy="506.1" r="1.6"/><circle cx="460.9" cy="505.9" r="1.6"/><circle cx="462.0" cy="505.7" r="1.6"/><circle cx="463.2" cy="505.1" r="1.6"/><circle cx="464.4" cy="504.6" r="1.6"/><circle cx="465.6" cy="505.1" r="1.6"/><circle cx="466.7" cy="505.7" r="1.6"/><circle cx="467.9" cy="505.9" r="1.6"/><circle cx="469.1" cy="506.3" r="1.6"/><circle cx="470.3" cy="506.1" r="1.6"/><circle cx="471.4" cy="505.9" r="1.6"/><circle cx="472.6" cy="506.3" r="1.6"/><circle cx="473.8" cy="505.9" r="1.6"/><circle cx="475.0" cy="505.5" r="1.6"/><circle cx="476.1" cy="505.9" r="1.6"/><circle cx="477.3" cy="506.1" r="1.6"/><circle cx="478.5" cy="505.9" r="1.6"/><circle cx="479.7" cy="505.5" r="1.6"/><circle cx="480.9" cy="505.9" r="1.6"/><circle cx="482.0" cy="506.3" r="1.6"/><circle cx="483.2" cy="505.9" r="1.6"/><circle cx="484.4" cy="505.5" r="1.6"/><circle cx="485.6" cy="505.9" r="1.6"/><circle cx="486.7" cy="505.1" r="1.6"/><circle cx="487.9" cy="500.6" r="1.6"/><circle cx="489.1" cy="499.5" r="1.6"/><circle cx="490.3" cy="498.4" r="1.6"/><circle cx="491.4" cy="505.9" r="1.6"/><circle cx="492.6" cy="505.9" r="1.6"/><circle cx="493.8" cy="505.5" r="1.6"/><circle cx="495.0" cy="505.1" r="1.6"/><circle cx="496.1" cy="501.2" r="1.6"/><circle cx="497.3" cy="498.6" r="1.6"/><circle cx="498.5" cy="500.1" r="1.6"/><circle cx="499.7" cy="504.2" r="1.6"/><circle cx="500.9" cy="505.1" r="1.6"/><circle cx="502.0" cy="498.4" r="1.6"/><circle cx="503.2" cy="495.8" r="1.6"/><circle cx="504.4" cy="503.8" r="1.6"/><circle cx="505.6" cy="503.3" r="1.6"/><circle cx="506.7" cy="496.2" r="1.6"/><circle cx="507.9" cy="495.2" r="1.6"/><circle cx="509.1" cy="455.9" r="1.6"/><circle cx="510.3" cy="466.3" r="1.6"/><circle cx="511.4" cy="479.8" r="1.6"/><circle cx="512.6" cy="478.7" r="1.6"/><circle cx="513.8" cy="503.1" r="1.6"/><circle cx="515.0" cy="486.7" r="1.6"/><circle cx="516.1" cy="499.1" r="1.6"/><circle cx="517.3" cy="501.3" r="1.6"/><circle cx="518.5" cy="500.4" r="1.6"/><circle cx="519.7" cy="499.8" r="1.6"/><circle cx="520.9" cy="502.1" r="1.6"/><circle cx="522.0" cy="503.5" r="1.6"/><circle cx="523.2" cy="505.0" r="1.6"/><circle cx="524.4" cy="502.5" r="1.6"/><circle cx="525.6" cy="499.8" r="1.6"/><circle cx="526.7" cy="501.2" r="1.6"/><circle cx="527.9" cy="503.1" r="1.6"/><circle cx="529.1" cy="498.6" r="1.6"/><circle cx="530.3" cy="495.2" r="1.6"/><circle cx="531.4" cy="500.1" r="1.6"/><circle cx="532.6" cy="498.4" r="1.6"/><circle cx="533.8" cy="497.8" r="1.6"/><circle cx="535.0" cy="487.7" r="1.6"/><circle cx="536.1" cy="495.2" r="1.6"/><circle cx="537.3" cy="491.8" r="1.6"/><circle cx="538.5" cy="488.5" r="1.6"/><circle cx="539.7" cy="489.7" r="1.6"/><circle cx="540.9" cy="495.8" r="1.6"/><circle cx="542.0" cy="492.2" r="1.6"/><circle cx="543.2" cy="490.3" r="1.6"/><circle cx="544.4" cy="493.3" r="1.6"/><circle cx="545.6" cy="496.2" r="1.6"/><circle cx="546.7" cy="494.3" r="1.6"/><circle cx="547.9" cy="494.4" r="1.6"/><circle cx="549.1" cy="463.4" r="1.6"/><circle cx="550.3" cy="484.5" r="1.6"/><circle cx="551.4" cy="490.1" r="1.6"/><circle cx="552.6" cy="493.3" r="1.6"/><circle cx="553.8" cy="495.2" r="1.6"/><circle cx="555.0" cy="497.4" r="1.6"/><circle cx="556.2" cy="479.7" r="1.6"/><circle cx="557.3" cy="475.8" r="1.6"/><circle cx="558.5" cy="419.3" r="1.6"/><circle cx="559.7" cy="412.0" r="1.6"/><circle cx="560.9" cy="410.1" r="1.6"/><circle cx="562.0" cy="408.7" r="1.6"/><circle cx="563.2" cy="401.4" r="1.6"/><circle cx="564.4" cy="390.8" r="1.6"/><circle cx="565.6" cy="399.8" r="1.6"/><circle cx="566.7" cy="396.5" r="1.6"/><circle cx="567.9" cy="389.3" r="1.6"/><circle cx="569.1" cy="388.3" r="1.6"/><circle cx="570.3" cy="398.5" r="1.6"/><circle cx="571.4" cy="387.2" r="1.6"/><circle cx="572.6" cy="439.8" r="1.6"/><circle cx="573.8" cy="415.2" r="1.6"/><circle cx="575.0" cy="416.9" r="1.6"/><circle cx="576.2" cy="419.6" r="1.6"/><circle cx="577.3" cy="416.1" r="1.6"/><circle cx="578.5" cy="412.0" r="1.6"/><circle cx="579.7" cy="400.7" r="1.6"/><circle cx="580.9" cy="403.8" r="1.6"/><circle cx="582.0" cy="397.7" r="1.6"/><circle cx="583.2" cy="395.1" r="1.6"/><circle cx="584.4" cy="393.0" r="1.6"/><circle cx="585.6" cy="391.9" r="1.6"/><circle cx="586.7" cy="387.5" r="1.6"/><circle cx="587.9" cy="406.0" r="1.6"/><circle cx="589.1" cy="433.8" r="1.6"/><circle cx="590.3" cy="421.8" r="1.6"/><circle cx="591.4" cy="414.9" r="1.6"/><circle cx="592.6" cy="411.6" r="1.6"/><circle cx="593.8" cy="404.5" r="1.6"/><circle cx="595.0" cy="408.0" r="1.6"/><circle cx="596.2" cy="502.8" r="1.6"/><circle cx="597.3" cy="470.9" r="1.6"/><circle cx="598.5" cy="474.3" r="1.6"/><circle cx="599.7" cy="478.7" r="1.6"/><circle cx="600.9" cy="467.7" r="1.6"/><circle cx="602.0" cy="474.6" r="1.6"/><circle cx="603.2" cy="424.7" r="1.6"/><circle cx="604.4" cy="317.3" r="1.6"/><circle cx="605.6" cy="503.1" r="1.6"/><circle cx="606.7" cy="480.2" r="1.6"/><circle cx="607.9" cy="479.4" r="1.6"/><circle cx="609.1" cy="495.1" r="1.6"/><circle cx="610.3" cy="477.7" r="1.6"/><circle cx="611.4" cy="486.7" r="1.6"/><circle cx="612.6" cy="440.2" r="1.6"/><circle cx="613.8" cy="374.2" r="1.6"/><circle cx="615.0" cy="345.9" r="1.6"/><circle cx="616.2" cy="463.4" r="1.6"/><circle cx="617.3" cy="490.1" r="1.6"/><circle cx="618.5" cy="495.2" r="1.6"/><circle cx="619.7" cy="497.4" r="1.6"/><circle cx="620.9" cy="479.4" r="1.6"/><circle cx="622.0" cy="475.5" r="1.6"/><circle cx="623.2" cy="499.5" r="1.6"/><circle cx="624.4" cy="501.3" r="1.6"/><circle cx="625.6" cy="501.6" r="1.6"/><circle cx="626.7" cy="502.1" r="1.6"/><circle cx="627.9" cy="503.5" r="1.6"/><circle cx="629.1" cy="505.0" r="1.6"/><circle cx="630.3" cy="503.1" r="1.6"/><circle cx="631.4" cy="499.8" r="1.6"/><circle cx="632.6" cy="502.1" r="1.6"/><circle cx="633.8" cy="503.1" r="1.6"/><circle cx="635.0" cy="501.3" r="1.6"/><circle cx="636.2" cy="495.5" r="1.6"/><circle cx="637.3" cy="499.8" r="1.6"/><circle cx="638.5" cy="498.1" r="1.6"/><circle cx="639.7" cy="499.1" r="1.6"/><circle cx="640.9" cy="487.9" r="1.6"/><circle cx="642.0" cy="495.1" r="1.6"/><circle cx="643.2" cy="492.1" r="1.6"/><circle cx="644.4" cy="488.2" r="1.6"/><circle cx="645.6" cy="491.4" r="1.6"/><circle cx="646.7" cy="495.9" r="1.6"/><circle cx="647.9" cy="489.7" r="1.6"/><circle cx="649.1" cy="495.9" r="1.6"/><circle cx="650.3" cy="494.0" r="1.6"/></g>
</svg>
</body></html>
